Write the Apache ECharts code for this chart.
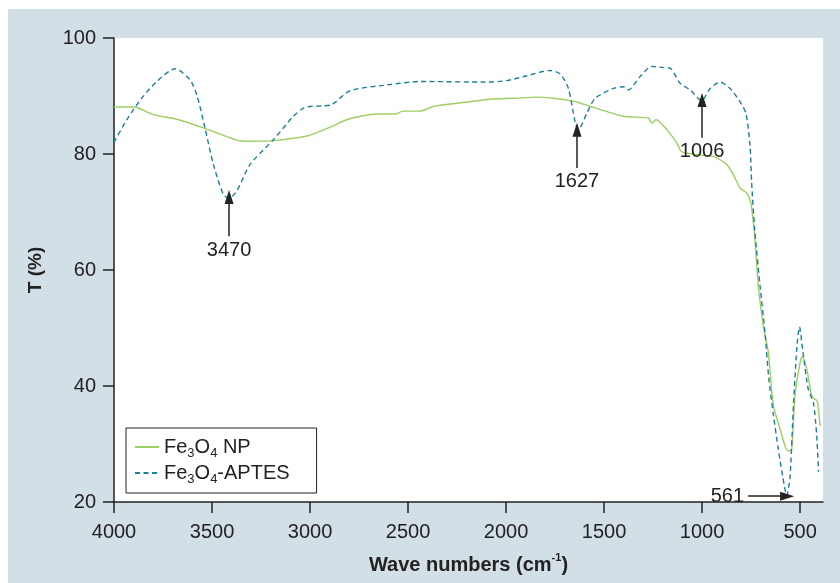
<!DOCTYPE html>
<html><head><meta charset="utf-8">
<script src="https://cdn.jsdelivr.net/npm/echarts@6/dist/echarts.min.js"></script>
<style>html,body{margin:0;padding:0;background:#fff}#c{width:840px;height:583px}</style>
</head><body><div id="c"></div>
<script>
// ---- data ----
const npName = 'Fe3O4 NP';
const aptesName = 'Fe3O4-APTES';
const npWave = [4000,3900,3800,3680,3544,3374,3306,3187,3017,2950,2885,2813,2728,2660,2566,2524,2439,2371,2235,2082,1963,1843,1759,1673,1622,1571,1401,1274,1257,1235,1180,1129,1104,1027,942,908,874,840,806,772,750,730,713,687,662,636,602,577,560,543,526,500,489,466,440,423,412,398];
const npT = [88.1,88.1,86.8,86.0,84.5,82.4,82.2,82.3,83.1,83.9,84.8,85.9,86.6,86.9,86.9,87.4,87.4,88.2,88.8,89.45,89.6,89.8,89.6,89.2,88.8,88.2,86.5,86.2,85.3,85.9,84.2,81.9,80.4,79.9,79.6,79.0,78.2,76.4,74.1,73.3,71.4,65.2,57.2,50.3,45.75,36.6,32.6,29.7,28.8,29.1,38.3,44.0,45.05,42.9,38.3,37.7,37.4,33.1];
const aptesWave = [4000,3935,3859,3782,3689,3612,3575,3536,3493,3442,3413,3374,3306,3187,3085,3034,3000,2932,2889,2796,2609,2439,2098,1996,1894,1776,1724,1682,1648,1631,1588,1546,1452,1401,1376,1316,1257,1197,1163,1112,1061,1002,959,908,857,806,776,755,747,730,704,679,660,636,611,589,568,551,534,517,503,487,458,432,415,406];
const aptesT = [82.0,85.9,89.6,92.5,94.7,92.8,89.9,84.5,78.2,73.0,72.4,73.6,78.2,82.45,86.5,87.9,88.2,88.3,88.5,90.9,91.9,92.5,92.4,92.65,93.5,94.4,93.8,91.3,85.6,84.2,87.0,89.6,91.3,91.6,91.05,93.35,95.1,94.9,94.8,92.2,91.05,89.2,91.3,92.4,91.3,89.0,87.0,81.3,75.0,66.4,57.2,49.2,41.5,35.0,29.1,24.5,21.1,24.5,36.6,46.3,50.2,46.3,39.4,37.1,31.4,25.2];
const xTicks = [4000,3500,3000,2500,2000,1500,1000,500];
const yTicks = [20,40,60,80,100];
const peakLabels = ['3470','1627','1006','561'];
const peakTailX = [3413,1638,1000,765];
const peakTailT = [65.8,77.6,82.8,21.0];
const peakTipX = [3413,1638,1000,566];
const peakTipT = [72.6,84.2,89.3,21.0];

// ---- chart ----
const FONT = "'Liberation Sans', Arial, Helvetica, sans-serif";
const zip = (a, b) => a.map((v, i) => [v, b[i]]);
const chemRich = s => s.replace(/(\d)/g, '{s|$1}');

const markData = peakLabels.map((lab, i) => [
  { name: lab, coord: [peakTailX[i], peakTailT[i]], symbol: 'none' },
  { coord: [peakTipX[i], peakTipT[i]], symbol: 'triangle', symbolSize: [9, 14] }
]);

const chart = echarts.init(document.getElementById('c'), null, { renderer: 'canvas' });
chart.setOption({
  animation: false,
  backgroundColor: '#ffffff',
  textStyle: { fontFamily: FONT },
  graphic: [{
    type: 'rect', z: -1, silent: true,
    shape: { x: 8, y: 9, width: 832, height: 574 },
    style: { fill: '#d3dfe7' }
  }],
  grid: {
    left: 114, right: 17, top: 38, bottom: 80,
    show: true, backgroundColor: '#ffffff', borderWidth: 0
  },
  legend: {
    orient: 'vertical', left: 126, top: 428,
    padding: [6, 27, 7, 8], itemGap: 0, itemWidth: 24, itemHeight: 12,
    borderColor: '#222', borderWidth: 1, backgroundColor: '#ffffff',
    itemStyle: { opacity: 0 },
    data: [npName, aptesName],
    formatter: name => chemRich(name),
    textStyle: {
      fontFamily: FONT, fontSize: 20, color: '#222', lineHeight: 26,
      rich: { s: { fontFamily: FONT, fontSize: 13, lineHeight: 10, verticalAlign: 'bottom', color: '#222' } }
    }
  },
  xAxis: {
    type: 'value', inverse: true, min: 383, max: 4000,
    name: 'Wave numbers (cm{p|-1})', nameLocation: 'middle', nameGap: 50,
    nameTextStyle: {
      fontFamily: FONT, fontSize: 20, fontWeight: 'bold', color: '#222', lineHeight: 26,
      rich: { p: { fontFamily: FONT, fontSize: 11, fontWeight: 'bold', lineHeight: 10, verticalAlign: 'top', color: '#222' } }
    },
    axisLine: { show: true, onZero: false, lineStyle: { color: '#222', width: 1.5 } },
    axisTick: { show: true, inside: false, length: 11, customValues: xTicks, lineStyle: { color: '#222', width: 1.5 } },
    axisLabel: { customValues: xTicks, margin: 20, fontFamily: FONT, fontSize: 20, color: '#222', formatter: v => String(v) },
    splitLine: { show: false }
  },
  yAxis: {
    type: 'value', min: 20, max: 100, interval: 20,
    name: 'T (%)', nameLocation: 'middle', nameGap: 68, nameRotate: 90,
    nameTextStyle: { fontFamily: FONT, fontSize: 19, fontWeight: 'bold', color: '#222', lineHeight: 20 },
    axisLine: { show: true, lineStyle: { color: '#222', width: 1.5 } },
    axisTick: { show: true, inside: false, length: 11, lineStyle: { color: '#222', width: 1.5 } },
    axisLabel: { margin: 18, fontFamily: FONT, fontSize: 20, color: '#222', customValues: yTicks, formatter: v => String(v) },
    splitLine: { show: false }
  },
  series: [
    {
      name: npName, type: 'line', data: zip(npWave, npT),
      symbol: 'none', smooth: 0.25, z: 2,
      lineStyle: { color: '#9dce62', width: 1.4 },
      itemStyle: { color: '#9dce62' }
    },
    {
      name: aptesName, type: 'line', data: zip(aptesWave, aptesT),
      symbol: 'none', smooth: 0.25, z: 3,
      lineStyle: { color: '#1b7f9c', width: 1.4, type: [5, 3.5] },
      itemStyle: { color: '#1b7f9c' },
      markLine: {
        silent: true, animation: false,
        symbol: ['none', 'triangle'],
        lineStyle: { color: '#222', width: 1.5, type: 'solid' },
        label: {
          show: true, position: 'start', formatter: '{b}', distance: 4,
          fontFamily: FONT, fontSize: 20, color: '#222'
        },
        emphasis: { disabled: true },
        data: markData
      }
    }
  ]
});
</script></body></html>
